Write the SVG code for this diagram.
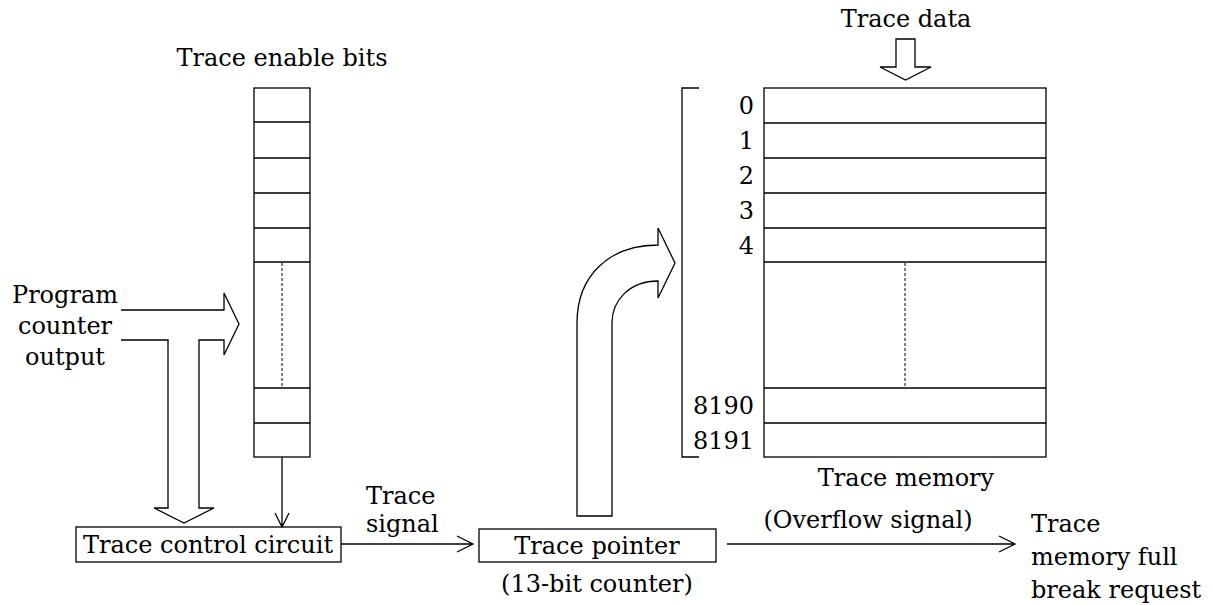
<svg xmlns="http://www.w3.org/2000/svg" width="1213" height="605" viewBox="0 0 1213 605">
<style>
text{font-family:"DejaVu Serif","Liberation Serif",serif;font-size:24px;fill:#000}
.s{fill:none;stroke:#000;stroke-width:1.3}
.h{fill:#fff;stroke:#000;stroke-width:1.3}
.d{fill:none;stroke:#000;stroke-width:1;stroke-dasharray:3,2}
.c{text-anchor:middle}
.e{text-anchor:end}
</style>
<rect width="1213" height="605" fill="#fff"/>
<g id="enable-bits">
<text class="c" x="282" y="66">Trace enable bits</text>
<rect class="s" x="254" y="88" width="56" height="369"/>
<path class="s" d="M254,122H310M254,158H310M254,193H310M254,228H310M254,262H310M254,388H310M254,423H310"/>
<line class="d" x1="282" y1="263" x2="282" y2="387"/>
</g>
<g id="trace-memory">
<text class="c" x="906" y="27">Trace data</text>
<rect class="s" x="764" y="88" width="282" height="369"/>
<path class="s" d="M764,123H1046M764,158H1046M764,193H1046M764,228H1046M764,262H1046M764,388H1046M764,423H1046"/>
<line class="d" x1="905" y1="263" x2="905" y2="387"/>
<path class="s" d="M699,88H682V457H699"/>
<text class="e" x="754" y="114">0</text>
<text class="e" x="754" y="149">1</text>
<text class="e" x="754" y="184">2</text>
<text class="e" x="754" y="219">3</text>
<text class="e" x="754" y="254">4</text>
<text class="e" x="754" y="414">8190</text>
<text class="e" x="754" y="449">8191</text>
<text class="c" x="906" y="486">Trace memory</text>
</g>
<g id="pc-output">
<text class="c" x="65" y="303">Program</text>
<text class="c" x="65" y="334">counter</text>
<text class="c" x="65" y="365">output</text>
</g>
<g id="trace-control">
<rect class="s" x="76" y="527" width="265" height="35"/>
<text class="c" x="208" y="553">Trace control circuit</text>
</g>
<g id="trace-pointer">
<rect class="s" x="479" y="529" width="237" height="33"/>
<text class="c" x="597" y="554">Trace pointer</text>
<text class="c" x="597" y="592">(13-bit counter)</text>
</g>
<g id="break-request">
<text x="1031" y="532">Trace</text>
<text x="1031" y="565">memory full</text>
<text x="1031" y="598">break request</text>
</g>
<g id="connectors">
<path class="h" d="M896,39H915V67H931L905.5,80L880,67H896Z"/>
<path class="s" d="M121,310H224V293L239,324L224,355V340H199V508H214L184,523L154,508H168V340H121"/>
<path class="h" d="M577,516V323C577,275 610,245 658,245V228L675,263L658,298V281C630,281 612,300 612,323V516Z"/>
<path class="s" d="M282,457V527M275,513L282,527L289,513"/>
<path class="s" d="M341,544H473M457,536L473,544L457,552"/>
<text x="366" y="504">Trace</text>
<text x="366" y="532">signal</text>
<path class="s" d="M727,544H1015M999,536L1015,544L999,552"/>
<text class="c" x="868" y="528">(Overflow signal)</text>
</g>
</svg>
